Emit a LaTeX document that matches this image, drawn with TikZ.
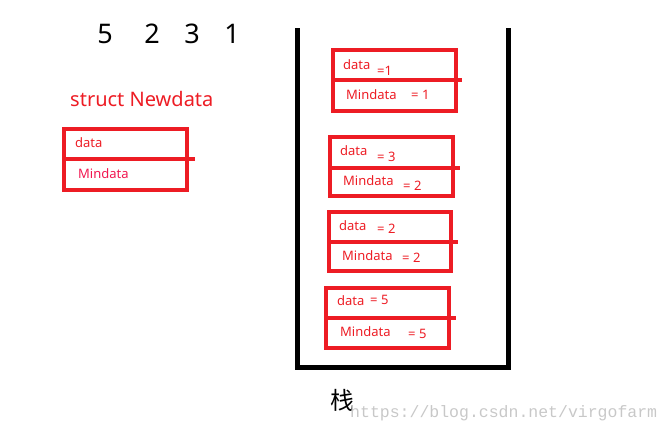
\documentclass[tikz,border=0pt]{standalone}
\usepackage{fontspec}
\setmainfont{Noto Sans}
\setmonofont{Liberation Mono}
\newfontfamily\cjk{Noto Sans CJK SC}
\definecolor{pred}{HTML}{ED1C24}
\definecolor{wm}{HTML}{C8C8C8}
\begin{document}
\begin{tikzpicture}[x=1pt,y=-1pt,
  redline/.style={draw=pred,line width=4pt},
  lbl/.style={text=pred,anchor=west,inner sep=0pt,font=\fontsize{13}{13}\selectfont},
  num/.style={anchor=center,inner sep=0pt,font=\fontsize{27}{27}\selectfont}]
\useasboundingbox (0,0) rectangle (670,434);
% numbers
\node[num] (n5) at (105,34) {5};
\node[num] (n2) at (152,34) {2};
\node[num] (n3) at (192,34) {3};
\node[num] (n1) at (232,34) {1};
\node[text=pred,anchor=west,inner sep=0pt,font=\fontsize{20}{20}\selectfont] (title) at (70,99) {struct Newdata};
% struct box
\draw[redline] (64,129) rectangle (187,190);
\draw[redline] (64,159) -- (195,159);
\node[lbl] (sd) at (75,143) {data};
\node[lbl,text=pred!80!magenta] (sm) at (78,174) {Mindata};
% stack container
\draw[line width=5pt,line cap=rect] (297,30) -- (297,367) -- (508,367) -- (508,30);
% box 1
\draw[redline] (333,50) rectangle (456,111);
\draw[redline] (333,80) -- (462,80);
\node[lbl] (d1) at (343,65) {data};
\node[lbl] (e1) at (377,71) {=1};
\node[lbl] (m1) at (346,95) {Mindata};
\node[lbl] (f1) at (411,95) {= 1};
% box 2
\draw[redline] (330,137) rectangle (453,196);
\draw[redline] (330,168) -- (460,168);
\node[lbl] (d2) at (340,151) {data};
\node[lbl] (e2) at (377,157) {= 3};
\node[lbl] (m2) at (343,181) {Mindata};
\node[lbl] (f2) at (403,186) {= 2};
% box 3
\draw[redline] (329,212) rectangle (451,271);
\draw[redline] (329,242) -- (458,242);
\node[lbl] (d3) at (339,226) {data};
\node[lbl] (e3) at (377,229) {= 2};
\node[lbl] (m3) at (342,256) {Mindata};
\node[lbl] (f3) at (402,258) {= 2};
% box 4
\draw[redline] (326,288) rectangle (449,348);
\draw[redline] (326,318) -- (456,318);
\node[lbl] (d4) at (337,301) {data};
\node[lbl] (e4) at (370,300) {= 5};
\node[lbl] (m4) at (340,332) {Mindata};
\node[lbl] (f4) at (408,334) {= 5};
% label
\node[inner sep=0pt,font=\cjk\fontsize{24}{24}\selectfont] (zhan) at (342,400) {栈};
\node[anchor=west,inner sep=0pt,text=wm,font=\ttfamily\fontsize{16.5}{16.5}\selectfont] (wmk) at (350,413) {https://blog.csdn.net/virgofarm};
\end{tikzpicture}
\end{document}
